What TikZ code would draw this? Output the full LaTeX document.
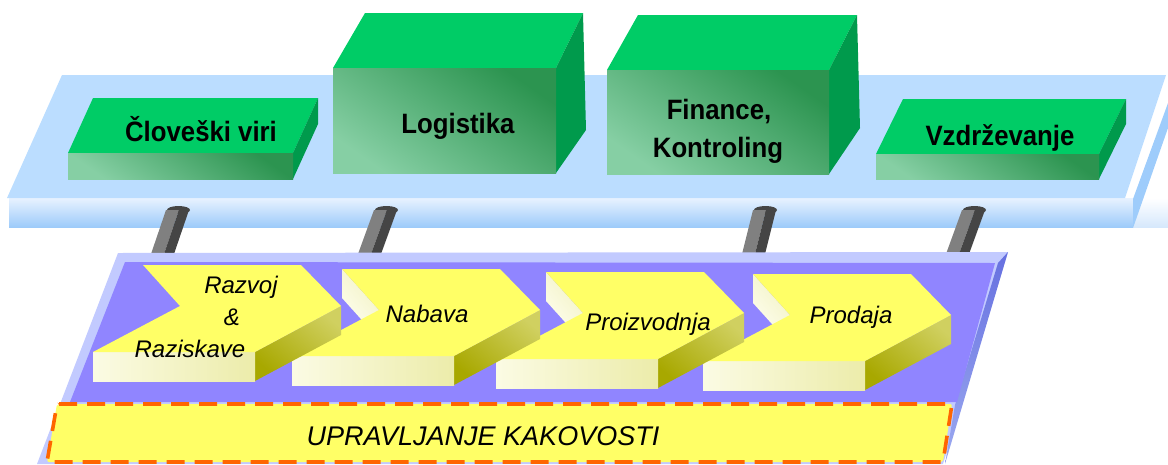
\documentclass[tikz,border=0pt]{standalone}
\usepackage{fontspec}
\setmainfont{Liberation Sans}
\newfontfamily\boxfont[FakeStretch=0.92]{Liberation Sans}

% colours
\definecolor{slabtop}{HTML}{BBDDFF}
\definecolor{slabfrontA}{HTML}{E8F2FF}
\definecolor{slabfrontB}{HTML}{9DCBFA}
\definecolor{slabfrontC}{HTML}{D6E8FC}
\definecolor{slabside}{HTML}{9ECCFB}
\definecolor{greentop}{HTML}{00CC66}
\definecolor{greenside}{HTML}{009A4C}
\definecolor{greenlight}{HTML}{86CFA4}
\definecolor{greendark}{HTML}{2C9450}
\definecolor{postlight}{HTML}{808080}
\definecolor{postdark}{HTML}{454545}
\definecolor{baserim}{HTML}{C2CAFF}
\definecolor{basefill}{HTML}{9085FF}
\definecolor{basesideA}{HTML}{6670E0}
\definecolor{basesideB}{HTML}{9CAAF0}
\definecolor{chevtop}{HTML}{FFFF66}
\definecolor{chevfrontA}{HTML}{FBFBE4}
\definecolor{chevfrontB}{HTML}{ECECAA}
\definecolor{chevsideA}{HTML}{D0D060}
\definecolor{chevsideB}{HTML}{A8A800}
\definecolor{notchA}{HTML}{F2F2C4}
\definecolor{notchB}{HTML}{FFFFF2}
\definecolor{qualfill}{HTML}{FFFF66}
\definecolor{qualdash}{HTML}{FF6600}

\tikzset{
  greenfront/.style={top color=greendark, bottom color=greenlight, shading angle=-35},
  slabfront/.style={top color=slabfrontA, bottom color=slabfrontB},
  slabend/.style={top color=white, bottom color=slabfrontC},
  chevfront/.style={left color=chevfrontA, right color=chevfrontB},
  chevside/.style={top color=chevsideA, bottom color=chevsideB, shading angle=-40},
  notchface/.style={top color=notchA, bottom color=notchB, shading angle=-50},
  baseside/.style={top color=basesideA, bottom color=basesideB},
  boldlabel/.style={font=\boxfont\bfseries\fontsize{28}{32}\selectfont, inner sep=0pt, anchor=base},
  itlabel/.style={font=\itshape\fontsize{24}{26}\selectfont, inner sep=0pt, anchor=base},
  quallabel/.style={font=\itshape\fontsize{27}{30}\selectfont, inner sep=0pt, anchor=base},
  qualbox/.style={fill=qualfill, draw=qualdash, line width=3.6pt, dash pattern=on 18pt off 10pt, rounded corners=2pt},
}

% flat green box: #1,#2 front-left x/right x, #3 front top y, #4 front bottom y, #5 back y, #6 depth shift x
\newcommand\greenbox[6]{%
  \fill[greentop] (#1+#6,#5) -- (#2+#6,#5) -- (#2,#3) -- (#1,#3) -- cycle;
  \fill[greenside] (#2,#3) -- (#2+#6,#5) -- (#2+#6,#4-#3+#5) -- (#2,#4) -- cycle;
  \shade[greenfront] (#1,#3) rectangle (#2,#4);
}

% process chevron: #1 back-left x, #2 back y, #3 = 1 draws the notch face
\newcommand\chevron[3]{%
  \begin{scope}[shift={(#1,#2)}]
    \ifnum#3=1
      \shade[notchface] (0,0) -- (37,41) -- (37,70) -- (0,29) -- cycle;
    \fi
    \shade[chevside] (112,87) -- (198,41) -- (198,70) -- (112,116) -- cycle;
    \shade[chevfront] (-50,87) rectangle (112,116);
    \fill[chevtop] (0,0) -- (158,0) -- (198,41) -- (112,87) -- (-50,87) -- (37,41) -- cycle;
  \end{scope}}

% support post: #1 top-left x, #2 bottom-left x
\newcommand\postbar[2]{%
  \fill[postdark] (#1+12.5,210) ellipse [x radius=11.5, y radius=4];
  \fill[postlight] (#1,210) -- (#1+13,210) -- (#2+13,254) -- (#2,254) -- cycle;
  \fill[postdark] (#1+13,210) -- (#1+23,210) -- (#2+23,254) -- (#2+13,254) -- cycle;
}

\begin{document}
\begin{tikzpicture}[x=1pt, y=-1pt]
  \useasboundingbox (0,0) rectangle (1168,464);

  % upper slab (support functions)
  \shade[slabfront] (9,198) rectangle (1133,227);
  \shade[slabend] (1133,198) rectangle (1168,227);
  \fill[slabtop] (62,75) -- (1166,75) -- (1125,198) -- (7,198) -- cycle;
  \fill[slabside] (1133,199) -- (1168,103) -- (1168,128) -- (1133,228) -- cycle;

  % support function boxes
  \greenbox{68}{293}{153}{179}{98}{25}
  \greenbox{876}{1099}{154}{179}{99}{27}
  % tall boxes
  \fill[greentop] (365,13) -- (583,13) -- (556,68) -- (333,68) -- cycle;
  \fill[greenside] (556,68) -- (583,13) -- (586,130) -- (556,173) -- cycle;
  \shade[greenfront] (333,68) rectangle (556,173);
  \fill[greentop] (638,15) -- (857,15) -- (829,70) -- (607,70) -- cycle;
  \fill[greenside] (829,70) -- (857,15) -- (860,128) -- (829,174) -- cycle;
  \shade[greenfront] (607,70) rectangle (829,174);

  \node[boldlabel] (hr)  at (201,141) {Človeški viri};
  \node[boldlabel] (log) at (458,133) {Logistika};
  \node[boldlabel] (fin) at (719,119) {Finance,};
  \node[boldlabel] (kon) at (718,157) {Kontroling};
  \node[boldlabel] (vzd) at (1000,145) {Vzdrževanje};

  % posts joining the two levels
  \postbar{166}{151}
  \postbar{374}{358}
  \postbar{753}{742}
  \postbar{962}{946}

  % lower platform (core processes)
  \fill[baserim] (118,253) -- (1008,252) -- (943,464) -- (37,464) -- cycle;
  \shade[baseside] (998,263) -- (1008,252) -- (945,464) -- (955,405) -- cycle;
  \fill[basefill] (125,262) -- (995,263) -- (957,402) -- (70,402) -- cycle;

  % process chevrons
  \chevron{753}{274}{1}
  \chevron{546}{272}{1}
  \chevron{342}{269}{1}
  \chevron{143}{265}{0}

  \node[itlabel] (rr1) at (241,293) {Razvoj};
  \node[itlabel] (rr2) at (232,325) {\&};
  \node[itlabel] (rr3) at (190,357) {Raziskave};
  \node[itlabel] (nab) at (427,322) {Nabava};
  \node[itlabel] (pro) at (648,330) {Proizvodnja};
  \node[itlabel] (prd) at (851,323) {Prodaja};

  % quality management band
  \path[qualbox] (57,404) -- (952,404) -- (943,462) -- (47,462) -- cycle;
  \node[quallabel] (qm) at (483,445) {UPRAVLJANJE KAKOVOSTI};
\end{tikzpicture}
\end{document}
